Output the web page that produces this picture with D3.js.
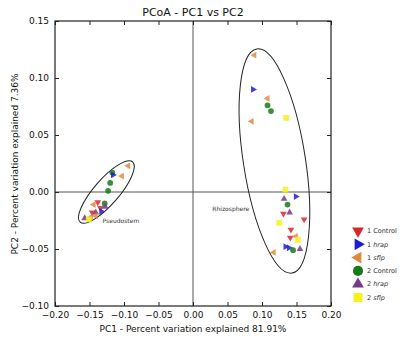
<!DOCTYPE html>
<html><head><meta charset="utf-8">
<script src="https://cdn.jsdelivr.net/npm/d3@7"></script>
<style>
body{margin:0;background:#fff;}
svg{display:block;font-family:"DejaVu Sans",sans-serif;}
</style></head>
<body><svg id="c" width="404" height="338"></svg>
<script>
const groups = ["1 Control","1 hrap","1 sflp","2 Control","2 hrap","2 sflp"];
const groupColors = ["#d8262b","#1c1cd6","#e0893f","#167a16","#74388c","#f5f21c"];
const xTicks = [-0.20,-0.15,-0.10,-0.05,0.00,0.05,0.10,0.15,0.20];
const yTicks = [-0.10,-0.05,0.00,0.05,0.10,0.15];
// points: pc1, pc2, group index
const pc1 = [
 // Pseudostem
 -0.094,-0.103,-0.117,-0.116,-0.120,-0.123,-0.128,-0.138,-0.144,-0.134,-0.127,-0.141,-0.146,-0.141,-0.157,-0.148,-0.151,-0.133,
 // Rhizosphere
 0.089,0.087,0.108,0.108,0.113,0.135,0.085,0.134,0.149,0.132,0.137,0.131,0.140,0.161,0.125,0.142,0.141,0.149,0.152,0.134,0.139,0.145,0.155,0.117
];
const pc2 = [
 0.023,0.014,0.017,0.015,0.008,0.001,-0.010,-0.009,-0.011,-0.014,-0.013,-0.018,-0.018,-0.021,-0.023,-0.022,-0.024,-0.017,
 0.120,0.090,0.082,0.076,0.071,0.065,0.062,0.002,-0.004,-0.006,-0.011,-0.019,-0.018,-0.024,-0.027,-0.033,-0.040,-0.039,-0.042,-0.048,-0.049,-0.051,-0.050,-0.053
];
const grp = [
 2,2,3,1,3,3,3,0,2,0,4,4,0,2,4,2,5,1,
 2,1,2,3,3,5,2,5,1,4,3,0,4,0,5,0,0,2,5,1,1,3,4,2
];
const clusterNames = ["Pseudostem","Rhizosphere"];

const svg = d3.select("#c");
const L=55,R=331,T=21,B=306;
const x = d3.scaleLinear().domain([-0.20,0.20]).range([L,R]);
const y = d3.scaleLinear().domain([-0.10,0.15]).range([B,T]);
const fmt = d3.format(".2f");

// zero lines
svg.append("line").attr("x1",x(0)).attr("x2",x(0)).attr("y1",T).attr("y2",B).attr("stroke","#555").attr("stroke-width",1);
svg.append("line").attr("x1",L).attr("x2",R).attr("y1",y(0)).attr("y2",y(0)).attr("stroke","#555").attr("stroke-width",1);

// axes with inward ticks
const tl=4;
svg.append("g").attr("transform",`translate(0,${B})`)
  .call(d3.axisBottom(x).tickValues(xTicks).tickFormat(fmt).tickSizeInner(-tl).tickSizeOuter(0).tickPadding(6))
  .call(g=>{g.select(".domain").remove();g.selectAll("text").attr("font-size",9).attr("fill","#111").attr("font-family","DejaVu Sans");g.selectAll("line").attr("stroke","#222");});
svg.append("g").attr("transform",`translate(0,${T})`)
  .call(d3.axisTop(x).tickValues(xTicks).tickFormat("").tickSizeInner(-tl).tickSizeOuter(0))
  .call(g=>{g.select(".domain").remove();g.selectAll("line").attr("stroke","#222");});
svg.append("g").attr("transform",`translate(${L},0)`)
  .call(d3.axisLeft(y).tickValues(yTicks).tickFormat(fmt).tickSizeInner(-tl).tickSizeOuter(0).tickPadding(6))
  .call(g=>{g.select(".domain").remove();g.selectAll("text").attr("font-size",9).attr("fill","#111").attr("font-family","DejaVu Sans");g.selectAll("line").attr("stroke","#222");});
svg.append("g").attr("transform",`translate(${R},0)`)
  .call(d3.axisRight(y).tickValues(yTicks).tickFormat("").tickSizeInner(-tl).tickSizeOuter(0))
  .call(g=>{g.select(".domain").remove();g.selectAll("line").attr("stroke","#222");});
svg.append("rect").attr("x",L).attr("y",T).attr("width",R-L).attr("height",B-T).attr("fill","none").attr("stroke","#222").attr("stroke-width",1.2);

// ellipses (annotation)
const ell = [
  {cx:-0.1255, cy:0.0, rx:40, ry:12.5, rot:-49, label:clusterNames[0], lx:-0.131, ly:-0.027},
  {cx:0.118, cy:0.0272, rx:113.4, ry:31, rot:81.1, label:clusterNames[1], lx:0.028, ly:-0.017}
];
ell.forEach(e=>{
  svg.append("ellipse").attr("cx",0).attr("cy",0).attr("rx",e.rx).attr("ry",e.ry)
    .attr("transform",`translate(${x(e.cx)},${y(e.cy)}) rotate(${e.rot})`)
    .attr("fill","none").attr("stroke","#222").attr("stroke-width",1);
  svg.append("text").attr("x",x(e.lx)).attr("y",y(e.ly)).attr("font-size",6).attr("fill","#333").text(e.label);
});

// markers
const rot = [180,90,-90,0,0,0];
const shp = [d3.symbolTriangle,d3.symbolTriangle,d3.symbolTriangle,d3.symbolCircle,d3.symbolTriangle,d3.symbolSquare];
const sz = [20,20,20,26,20,34];
const lsz = [60,60,60,80,60,80];
svg.append("g").selectAll("path").data(pc1.map((v,i)=>[v,pc2[i],grp[i]])).join("path")
  .attr("d",d=>d3.symbol().type(shp[d[2]]).size(sz[d[2]])())
  .attr("transform",d=>`translate(${x(d[0])},${y(d[1])}) rotate(${rot[d[2]]})`)
  .attr("fill",d=>groupColors[d[2]]).attr("opacity",0.85);

// legend
const lg = svg.append("g");
groups.forEach((gname,i)=>{
  const yy = 231 + i*13.3;
  lg.append("path").attr("d",d3.symbol().type(shp[i]).size(lsz[i])())
    .attr("transform",`translate(358,${yy}) rotate(${rot[i]})`).attr("fill",groupColors[i]);
  const t = lg.append("text").attr("x",367).attr("y",yy+2.2).attr("font-size",6.5).attr("fill","#333");
  const parts = gname.split(" ");
  t.append("tspan").text(parts[0]+" ");
  t.append("tspan").attr("font-style",parts[1]==="Control"?"normal":"italic").text(parts[1]);
});

// titles
svg.append("text").attr("x",193).attr("y",16).attr("text-anchor","middle").attr("font-size",11).attr("fill","#111").text("PCoA - PC1 vs PC2");
svg.append("text").attr("x",193).attr("y",332).attr("text-anchor","middle").attr("font-size",9).attr("fill","#111").text("PC1 - Percent variation explained 81.91%");
svg.append("text").attr("transform","translate(18,164) rotate(-90)").attr("text-anchor","middle").attr("font-size",9).attr("fill","#111").text("PC2 - Percent variation explained 7.36%");
</script></body></html>
